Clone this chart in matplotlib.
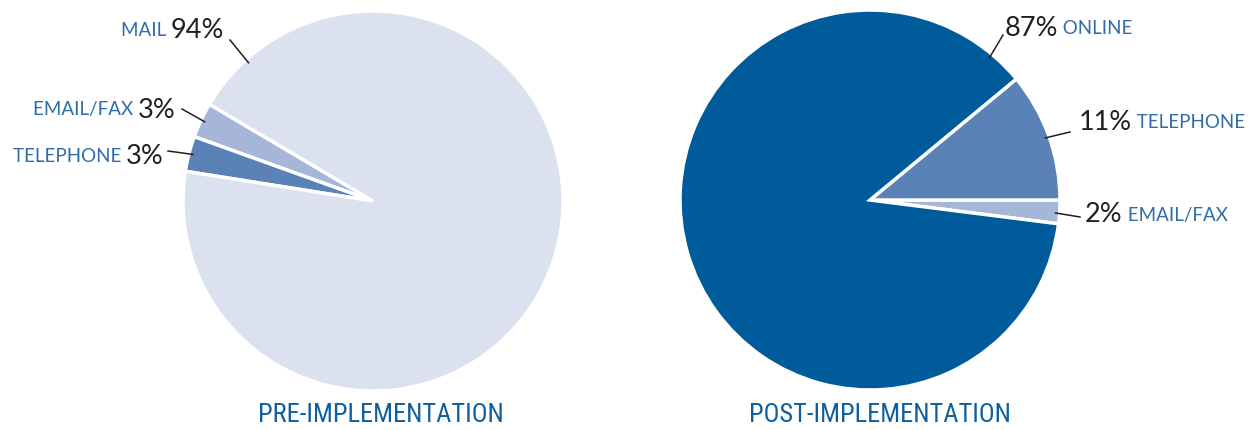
import numpy as np
import matplotlib
matplotlib.use("Agg")
import matplotlib.pyplot as plt
from matplotlib import font_manager

# pie data (order is counter-clockwise from the start angle)
pre_labels = ["EMAIL/FAX", "TELEPHONE", "MAIL"]
pre_values = [3, 3, 94]
post_labels = ["EMAIL/FAX", "TELEPHONE", "ONLINE"]
post_values = [2, 11, 87]

pre_colors = ["#a5b6d8", "#5b82b7", "#dce1ef"]
post_colors = ["#a5b6d8", "#5b82b7", "#005b9a"]

LABEL_BLUE = "#2f6ca8"
NUM_DARK = "#231f20"
TITLE_BLUE = "#0f5f9e"

names = {f.name for f in font_manager.fontManager.ttflist}
title_family = "DejaVu Sans"
for cand in ["Liberation Sans Narrow", "DejaVu Sans Condensed", "Roboto Condensed"]:
    if cand in names:
        title_family = cand
        break

W, H = 1257, 430
fig = plt.figure(figsize=(W / 100, H / 100), dpi=100)
ax = fig.add_axes([0, 0, 1, 1])

R = 190
pre_c = (373, H - 201)
post_c = (870, H - 200)

pre_w, _ = ax.pie(pre_values, colors=pre_colors, startangle=149.4, counterclock=True,
                  center=pre_c, radius=R, frame=True,
                  wedgeprops=dict(edgecolor="white", linewidth=2.5))
post_w, _ = ax.pie(post_values, colors=post_colors, startangle=-7.2, counterclock=True,
                   center=post_c, radius=R, frame=True,
                   wedgeprops=dict(edgecolor="white", linewidth=2.5))
ax.set_xlim(0, W)
ax.set_ylim(0, H)
ax.set_aspect("equal")
ax.axis("off")


def edge_pt(c, ang, r):
    a = np.deg2rad(ang)
    return c[0] + r * np.cos(a), c[1] + r * np.sin(a)


def label(c, ang, p1, tx, ty, word, pct, side):
    x0, y0 = edge_pt(c, ang, R - 4)
    ax.plot([x0, p1[0]], [y0, H - p1[1]], color="#231f20", lw=1.1)
    if side == "left":
        t = ax.text(tx, H - ty, f"{pct}%", fontsize=19.5, color=NUM_DARK,
                    ha="right", va="center", family="Lato")
        ax.annotate(word + " ", xy=(0, 0.5), xycoords=t, ha="right", va="center",
                    fontsize=13.5, color=LABEL_BLUE, family="Lato")
    else:
        t = ax.text(tx, H - ty, f"{pct}%", fontsize=19.5, color=NUM_DARK,
                    ha="left", va="center", family="Lato")
        ax.annotate(" " + word, xy=(1, 0.5), xycoords=t, ha="left", va="center",
                    fontsize=13.5, color=LABEL_BLUE, family="Lato")


# left pie labels
label(pre_c, 132, (230, 40), 224, 30, pre_labels[2], pre_values[2], "left")
label(pre_c, 154.8, (182, 109), 176, 110, pre_labels[0], pre_values[0], "left")
label(pre_c, 165.5, (168, 151), 164, 157, pre_labels[1], pre_values[1], "left")

# right pie labels
label(post_c, 50, (1003, 35), 1005, 28, post_labels[2], post_values[2], "right")
label(post_c, 19.5, (1070, 132), 1079, 123, post_labels[1], post_values[1], "right")
label(post_c, -4, (1080, 217), 1085, 215, post_labels[0], post_values[0], "right")

title_kw = dict(fontsize=19, color=TITLE_BLUE, ha="center", va="center",
                family=title_family)
if title_family == "DejaVu Sans":
    title_kw["fontsize"] = 15
ax.text(381, H - 415, "PRE-IMPLEMENTATION", **title_kw)
ax.text(880, H - 415, "POST-IMPLEMENTATION", **title_kw)

fig.savefig("out.png", dpi=100)
